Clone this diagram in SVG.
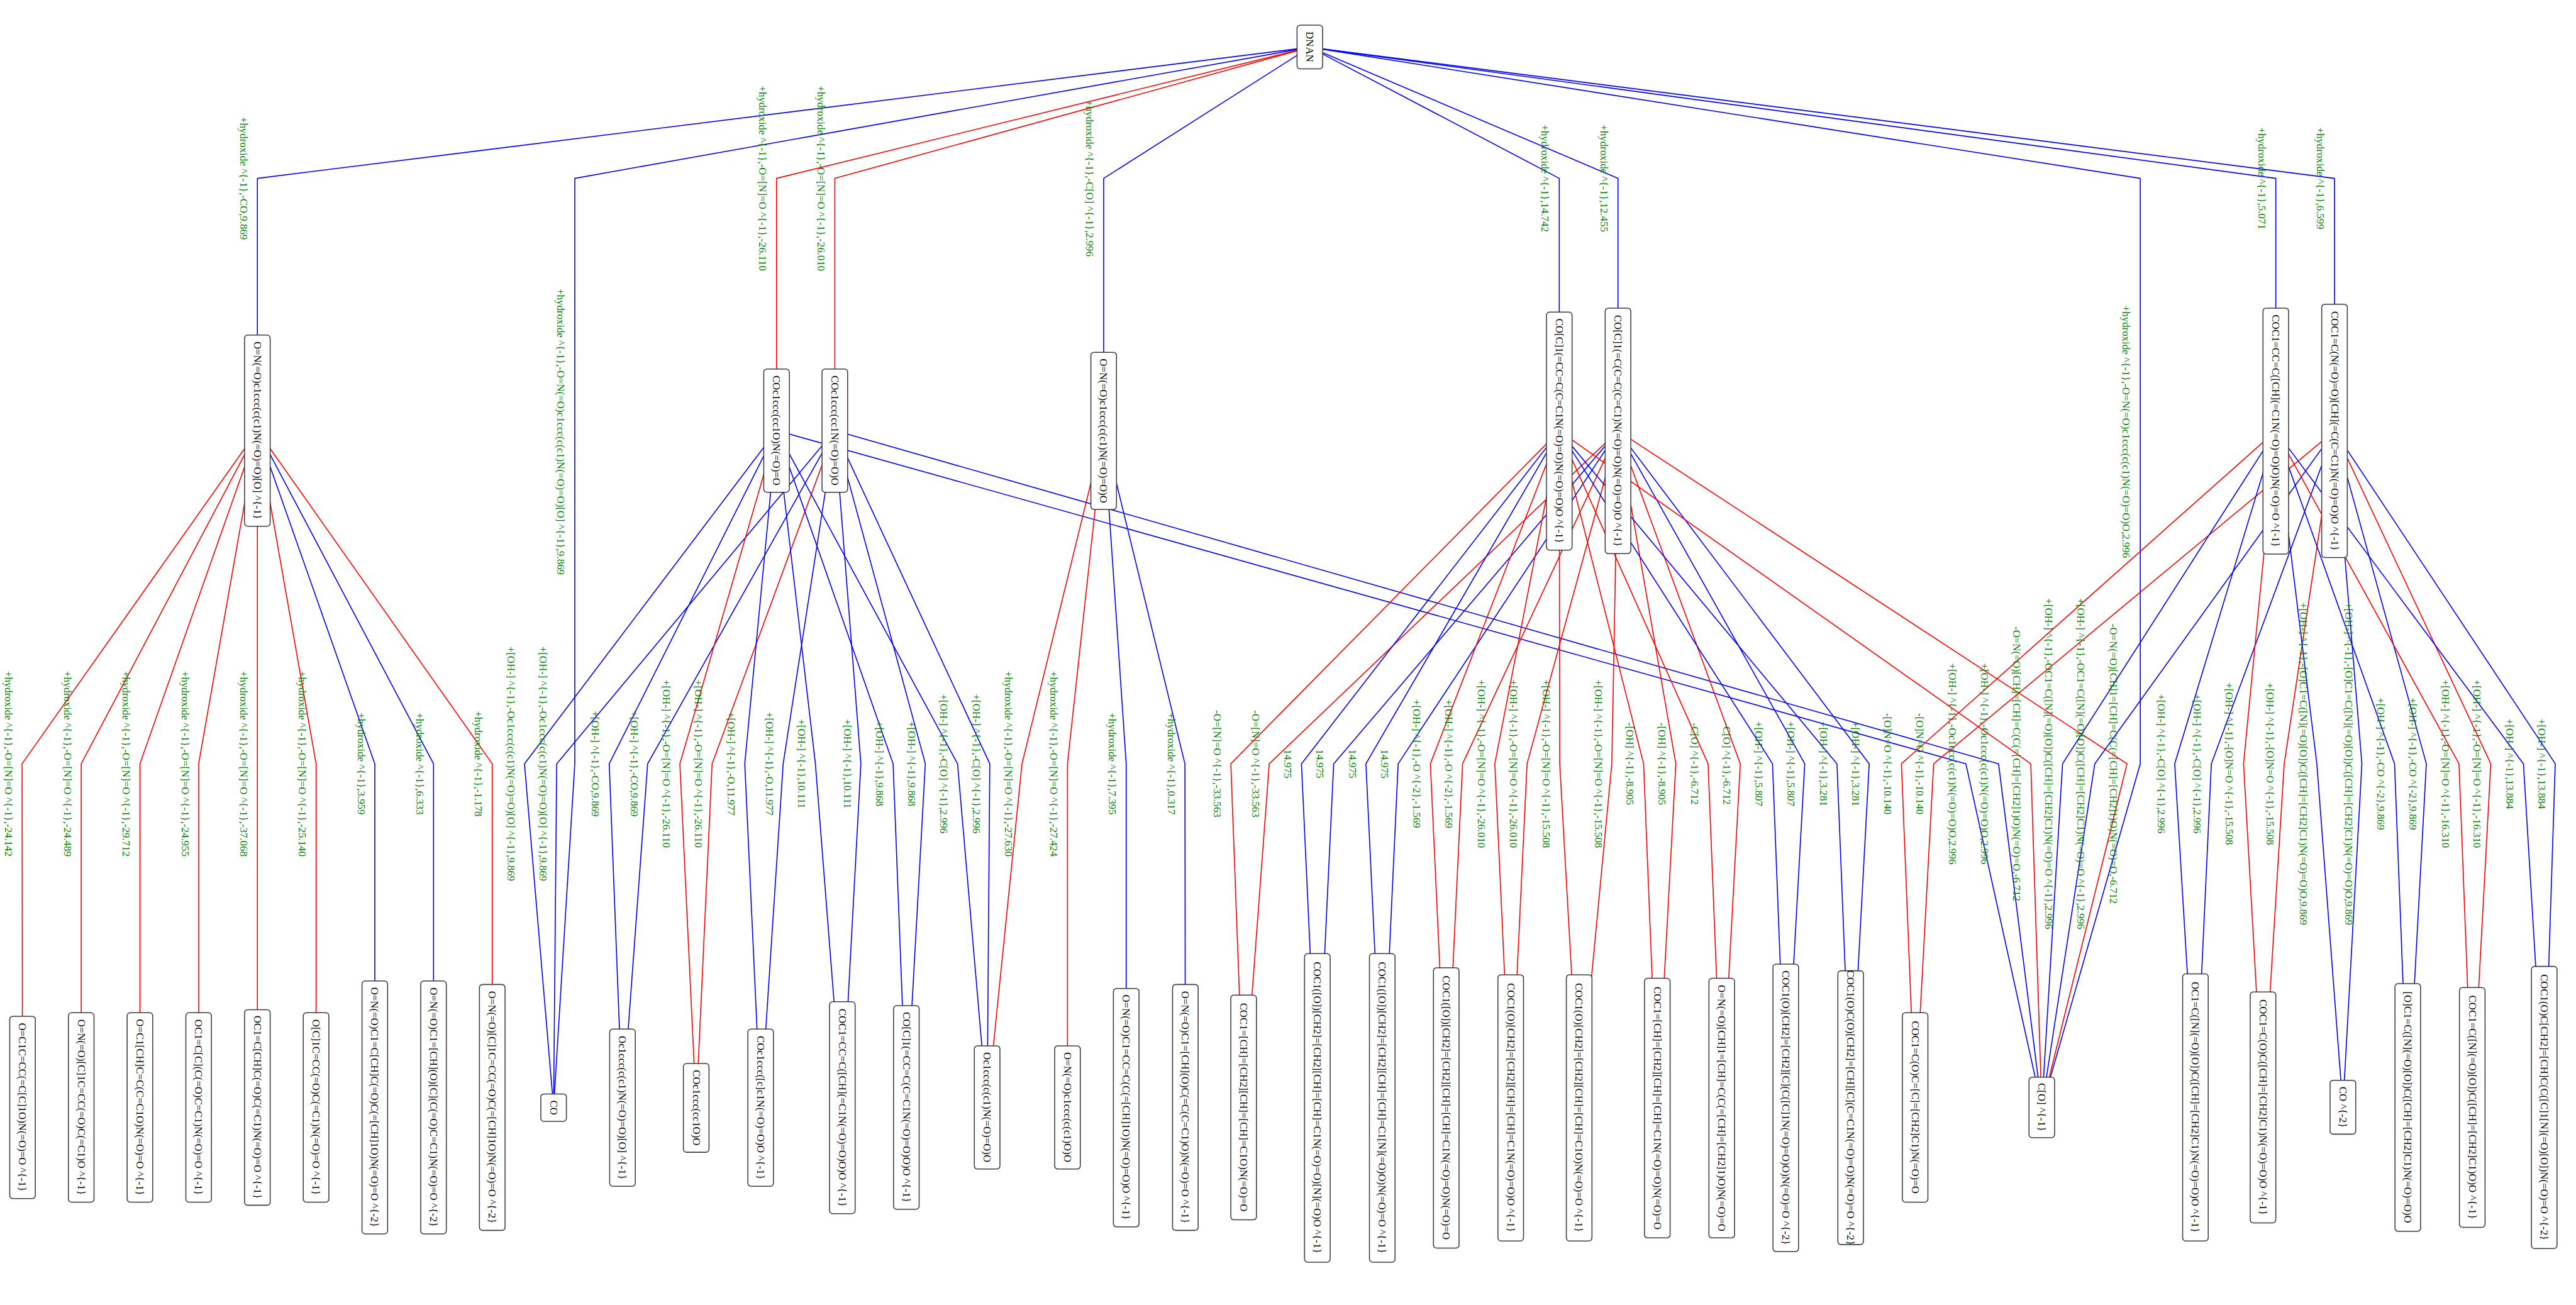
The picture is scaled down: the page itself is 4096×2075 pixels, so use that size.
<svg xmlns="http://www.w3.org/2000/svg" width="4096" height="2075" viewBox="0 0 4096 2075">
<style>
.bg{fill:#fff}
.nd rect{fill:#fff;stroke:#3c3c3c;stroke-width:2.2}
.nd text{font-family:"Liberation Serif","Times New Roman",serif;font-size:24px;fill:#000;text-anchor:middle;dominant-baseline:central}
.e{fill:none;stroke-width:2.3;stroke-linejoin:round}
.b{stroke:#0000ff}
.r{stroke:#ff0000}
.l{font-family:"Liberation Serif","Times New Roman",serif;font-size:24px;fill:#008000;text-anchor:middle;dominant-baseline:central}
</style>
<rect class="bg" x="0" y="0" width="4096" height="2075"/>
<g transform="scale(0.70197)">
<g id="connectors">
<polyline class="e b" points="2967,107 583,404 583,975"/>
<polyline class="e b" points="2967,107 1302,404 1302,1730 1254,2509"/>
<polyline class="e r" points="2967,107 1759,404 1759,975"/>
<polyline class="e r" points="2967,107 1891,404 1891,975"/>
<polyline class="e b" points="2967,107 2500,404 2500,976"/>
<polyline class="e b" points="2967,107 3532,404 3532,976"/>
<polyline class="e b" points="2967,107 3665,404 3665,976"/>
<polyline class="e b" points="2967,107 4848,404 4848,1730 4625,2508"/>
<polyline class="e b" points="2967,107 5155,404 5155,976"/>
<polyline class="e b" points="2967,107 5288,404 5288,976"/>
<polyline class="e r" points="583,975 50,1730 51,2508"/>
<polyline class="e r" points="583,975 184,1730 184,2508"/>
<polyline class="e r" points="583,975 317,1730 317,2508"/>
<polyline class="e r" points="583,975 450,1730 450,2508"/>
<polyline class="e r" points="583,975 583,1730 583,2508"/>
<polyline class="e r" points="583,975 716,1730 716,2508"/>
<polyline class="e b" points="583,975 849,1730 849,2508"/>
<polyline class="e b" points="583,975 982,1730 982,2508"/>
<polyline class="e r" points="583,975 1115,1730 1115,2508"/>
<polyline class="e b" points="1759,975 1188,1730 1254,2509"/>
<polyline class="e b" points="1891,975 1261,1730 1254,2509"/>
<polyline class="e b" points="1759,975 1380,1730 1410,2509"/>
<polyline class="e b" points="1891,975 1467,1730 1410,2509"/>
<polyline class="e r" points="1759,975 1540,1730 1577,2509"/>
<polyline class="e r" points="1891,975 1613,1730 1577,2509"/>
<polyline class="e b" points="1759,975 1687,1730 1723,2509"/>
<polyline class="e b" points="1891,975 1774,1730 1723,2509"/>
<polyline class="e b" points="1759,975 1847,1730 1908,2509"/>
<polyline class="e b" points="1891,975 1950,1730 1908,2509"/>
<polyline class="e b" points="1759,975 2023,1730 2053,2508"/>
<polyline class="e b" points="1891,975 2096,1730 2053,2508"/>
<polyline class="e b" points="1759,975 2169,1730 2236,2508"/>
<polyline class="e b" points="1891,975 2242,1730 2236,2508"/>
<polyline class="e b" points="1759,975 4453,1730 4625,2508"/>
<polyline class="e b" points="1891,975 4527,1730 4625,2508"/>
<polyline class="e r" points="2500,976 2315,1730 2236,2508"/>
<polyline class="e r" points="2500,976 2418,1730 2418,2508"/>
<polyline class="e b" points="2500,976 2551,1730 2551,2508"/>
<polyline class="e b" points="2500,976 2684,1730 2685,2508"/>
<polyline class="e r" points="3532,976 2788,1730 2817,2508"/>
<polyline class="e r" points="3665,976 2875,1730 2817,2508"/>
<polyline class="e b" points="3532,976 2948,1730 2984,2508"/>
<polyline class="e b" points="3665,976 3021,1730 2984,2508"/>
<polyline class="e b" points="3532,976 3094,1730 3131,2508"/>
<polyline class="e b" points="3665,976 3167,1730 3131,2508"/>
<polyline class="e r" points="3532,976 3240,1730 3276,2508"/>
<polyline class="e r" points="3665,976 3313,1730 3276,2508"/>
<polyline class="e r" points="3532,976 3386,1730 3422,2508"/>
<polyline class="e r" points="3665,976 3459,1730 3422,2508"/>
<polyline class="e r" points="3532,976 3533,1730 3577,2508"/>
<polyline class="e r" points="3665,976 3651,1730 3577,2508"/>
<polyline class="e r" points="3532,976 3723,1730 3754,2508"/>
<polyline class="e r" points="3665,976 3796,1730 3754,2508"/>
<polyline class="e r" points="3532,976 3869,1730 3900,2508"/>
<polyline class="e r" points="3665,976 3942,1730 3900,2508"/>
<polyline class="e b" points="3532,976 4015,1730 4045,2508"/>
<polyline class="e b" points="3665,976 4088,1730 4045,2508"/>
<polyline class="e b" points="3532,976 4161,1730 4192,2508"/>
<polyline class="e b" points="3665,976 4234,1730 4192,2508"/>
<polyline class="e r" points="3532,976 4600,1730 4625,2508"/>
<polyline class="e r" points="3665,976 4818,1730 4625,2508"/>
<polyline class="e r" points="5155,976 4307,1730 4338,2508"/>
<polyline class="e r" points="5288,976 4380,1730 4338,2508"/>
<polyline class="e b" points="5155,976 4672,1730 4625,2508"/>
<polyline class="e b" points="5288,976 4745,1730 4625,2508"/>
<polyline class="e b" points="5155,976 4926,1730 4973,2508"/>
<polyline class="e b" points="5288,976 5009,1730 4973,2508"/>
<polyline class="e r" points="5155,976 5082,1730 5126,2508"/>
<polyline class="e r" points="5288,976 5174,1730 5126,2508"/>
<polyline class="e b" points="5155,976 5248,1730 5307,2508"/>
<polyline class="e b" points="5288,976 5350,1730 5307,2508"/>
<polyline class="e b" points="5155,976 5424,1730 5454,2508"/>
<polyline class="e b" points="5288,976 5496,1730 5454,2508"/>
<polyline class="e r" points="5155,976 5570,1730 5600,2508"/>
<polyline class="e r" points="5288,976 5642,1730 5600,2508"/>
<polyline class="e b" points="5155,976 5716,1730 5763,2508"/>
<polyline class="e b" points="5288,976 5788,1730 5763,2508"/>
<g id="edge-labels">
<text class="l" x="552" y="404" transform="rotate(90 552 404)">+hydroxide ^{-1},-CO,9.869</text>
<text class="l" x="1270" y="978" transform="rotate(90 1270 978)">+hydroxide ^{-1},-O=N(=O)c1ccc(c(c1)N(=O)=O)[O] ^{-1},9.869</text>
<text class="l" x="1727" y="404" transform="rotate(90 1727 404)">+hydroxide ^{-1},-O=[N]=O ^{-1},-26.110</text>
<text class="l" x="1860" y="404" transform="rotate(90 1860 404)">+hydroxide ^{-1},-O=[N]=O ^{-1},-26.010</text>
<text class="l" x="2468" y="404" transform="rotate(90 2468 404)">+hydroxide ^{-1},-C[O] ^{-1},2.996</text>
<text class="l" x="3500" y="404" transform="rotate(90 3500 404)">+hydroxide ^{-1},14.742</text>
<text class="l" x="3633" y="404" transform="rotate(90 3633 404)">+hydroxide ^{-1},12.455</text>
<text class="l" x="4816" y="978" transform="rotate(90 4816 978)">+hydroxide ^{-1},-O=N(=O)c1ccc(c(c1)N(=O)=O)O,2.996</text>
<text class="l" x="5123" y="404" transform="rotate(90 5123 404)">+hydroxide ^{-1},5.071</text>
<text class="l" x="5256" y="404" transform="rotate(90 5256 404)">+hydroxide ^{-1},6.599</text>
<text class="l" x="19" y="1730" transform="rotate(90 19 1730)">+hydroxide ^{-1},-O=[N]=O ^{-1},-24.142</text>
<text class="l" x="153" y="1730" transform="rotate(90 153 1730)">+hydroxide ^{-1},-O=[N]=O ^{-1},-24.489</text>
<text class="l" x="286" y="1730" transform="rotate(90 286 1730)">+hydroxide ^{-1},-O=[N]=O ^{-1},-29.712</text>
<text class="l" x="419" y="1730" transform="rotate(90 419 1730)">+hydroxide ^{-1},-O=[N]=O ^{-1},-24.955</text>
<text class="l" x="552" y="1730" transform="rotate(90 552 1730)">+hydroxide ^{-1},-O=[N]=O ^{-1},-37.068</text>
<text class="l" x="685" y="1730" transform="rotate(90 685 1730)">+hydroxide ^{-1},-O=[N]=O ^{-1},-25.140</text>
<text class="l" x="818" y="1730" transform="rotate(90 818 1730)">+hydroxide ^{-1},3.959</text>
<text class="l" x="951" y="1730" transform="rotate(90 951 1730)">+hydroxide ^{-1},6.333</text>
<text class="l" x="1084" y="1730" transform="rotate(90 1084 1730)">+hydroxide ^{-1},-1.178</text>
<text class="l" x="1157" y="1730" transform="rotate(90 1157 1730)">+[OH-] ^{-1},-Oc1ccc(c(c1)N(=O)=O)[O] ^{-1},9.869</text>
<text class="l" x="1230" y="1730" transform="rotate(90 1230 1730)">+[OH-] ^{-1},-Oc1ccc(c(c1)N(=O)=O)[O] ^{-1},9.869</text>
<text class="l" x="1349" y="1730" transform="rotate(90 1349 1730)">+[OH-] ^{-1},-CO,9.869</text>
<text class="l" x="1436" y="1730" transform="rotate(90 1436 1730)">+[OH-] ^{-1},-CO,9.869</text>
<text class="l" x="1509" y="1730" transform="rotate(90 1509 1730)">+[OH-] ^{-1},-O=[N]=O ^{-1},-26.110</text>
<text class="l" x="1582" y="1730" transform="rotate(90 1582 1730)">+[OH-] ^{-1},-O=[N]=O ^{-1},-26.110</text>
<text class="l" x="1656" y="1730" transform="rotate(90 1656 1730)">+[OH-] ^{-1},-O,11.977</text>
<text class="l" x="1743" y="1730" transform="rotate(90 1743 1730)">+[OH-] ^{-1},-O,11.977</text>
<text class="l" x="1816" y="1730" transform="rotate(90 1816 1730)">+[OH-] ^{-1},10.111</text>
<text class="l" x="1919" y="1730" transform="rotate(90 1919 1730)">+[OH-] ^{-1},10.111</text>
<text class="l" x="1992" y="1730" transform="rotate(90 1992 1730)">+[OH-] ^{-1},9.868</text>
<text class="l" x="2065" y="1730" transform="rotate(90 2065 1730)">+[OH-] ^{-1},9.868</text>
<text class="l" x="2138" y="1730" transform="rotate(90 2138 1730)">+[OH-] ^{-1},-C[O] ^{-1},2.996</text>
<text class="l" x="2211" y="1730" transform="rotate(90 2211 1730)">+[OH-] ^{-1},-C[O] ^{-1},2.996</text>
<text class="l" x="2284" y="1730" transform="rotate(90 2284 1730)">+hydroxide ^{-1},-O=[N]=O ^{-1},-27.630</text>
<text class="l" x="2387" y="1730" transform="rotate(90 2387 1730)">+hydroxide ^{-1},-O=[N]=O ^{-1},-27.424</text>
<text class="l" x="2520" y="1730" transform="rotate(90 2520 1730)">+hydroxide ^{-1},7.395</text>
<text class="l" x="2653" y="1730" transform="rotate(90 2653 1730)">+hydroxide ^{-1},0.317</text>
<text class="l" x="2757" y="1730" transform="rotate(90 2757 1730)">-O=[N]=O ^{-1},-33.563</text>
<text class="l" x="2844" y="1730" transform="rotate(90 2844 1730)">-O=[N]=O ^{-1},-33.563</text>
<text class="l" x="2917" y="1730" transform="rotate(90 2917 1730)">14.975</text>
<text class="l" x="2990" y="1730" transform="rotate(90 2990 1730)">14.975</text>
<text class="l" x="3063" y="1730" transform="rotate(90 3063 1730)">14.975</text>
<text class="l" x="3136" y="1730" transform="rotate(90 3136 1730)">14.975</text>
<text class="l" x="3209" y="1730" transform="rotate(90 3209 1730)">+[OH-] ^{-1},-O ^{-2},-1.569</text>
<text class="l" x="3282" y="1730" transform="rotate(90 3282 1730)">+[OH-] ^{-1},-O ^{-2},-1.569</text>
<text class="l" x="3355" y="1730" transform="rotate(90 3355 1730)">+[OH-] ^{-1},-O=[N]=O ^{-1},-26.010</text>
<text class="l" x="3428" y="1730" transform="rotate(90 3428 1730)">+[OH-] ^{-1},-O=[N]=O ^{-1},-26.010</text>
<text class="l" x="3502" y="1730" transform="rotate(90 3502 1730)">+[OH-] ^{-1},-O=[N]=O ^{-1},-15.508</text>
<text class="l" x="3620" y="1730" transform="rotate(90 3620 1730)">+[OH-] ^{-1},-O=[N]=O ^{-1},-15.508</text>
<text class="l" x="3692" y="1730" transform="rotate(90 3692 1730)">-[OH] ^{-1},-8.905</text>
<text class="l" x="3765" y="1730" transform="rotate(90 3765 1730)">-[OH] ^{-1},-8.905</text>
<text class="l" x="3838" y="1730" transform="rotate(90 3838 1730)">-C[O] ^{-1},-6.712</text>
<text class="l" x="3911" y="1730" transform="rotate(90 3911 1730)">-C[O] ^{-1},-6.712</text>
<text class="l" x="3984" y="1730" transform="rotate(90 3984 1730)">+[OH-] ^{-1},5.807</text>
<text class="l" x="4057" y="1730" transform="rotate(90 4057 1730)">+[OH-] ^{-1},5.807</text>
<text class="l" x="4130" y="1730" transform="rotate(90 4130 1730)">+[OH-] ^{-1},3.281</text>
<text class="l" x="4203" y="1730" transform="rotate(90 4203 1730)">+[OH-] ^{-1},3.281</text>
<text class="l" x="4276" y="1730" transform="rotate(90 4276 1730)">-[O]N=O ^{-1},-10.140</text>
<text class="l" x="4349" y="1730" transform="rotate(90 4349 1730)">-[O]N=O ^{-1},-10.140</text>
<text class="l" x="4422" y="1730" transform="rotate(90 4422 1730)">+[OH-] ^{-1},-Oc1ccc(c(c1)N(=O)=O)O,2.996</text>
<text class="l" x="4495" y="1730" transform="rotate(90 4495 1730)">+[OH-] ^{-1},-Oc1ccc(c(c1)N(=O)=O)O,2.996</text>
<text class="l" x="4568" y="1730" transform="rotate(90 4568 1730)">-O=N(=O)[CH]=[CH]=C(C(=[CH]=[CH2]1)O)N(=O)=O,-6.712</text>
<text class="l" x="4640" y="1730" transform="rotate(90 4640 1730)">+[OH-] ^{-1},-OC1=C([N](=O)[O])C([CH]=[CH2]C1)N(=O)=O ^{-1},2.996</text>
<text class="l" x="4713" y="1730" transform="rotate(90 4713 1730)">+[OH-] ^{-1},-OC1=C([N](=O)[O])C([CH]=[CH2]C1)N(=O)=O ^{-1},2.996</text>
<text class="l" x="4787" y="1730" transform="rotate(90 4787 1730)">-O=N(=O)[CH]1=[CH]=C(C(=[CH]=[CH2]1)O)N(=O)=O,-6.712</text>
<text class="l" x="4895" y="1730" transform="rotate(90 4895 1730)">+[OH-] ^{-1},-C[O] ^{-1},2.996</text>
<text class="l" x="4977" y="1730" transform="rotate(90 4977 1730)">+[OH-] ^{-1},-C[O] ^{-1},2.996</text>
<text class="l" x="5050" y="1730" transform="rotate(90 5050 1730)">+[OH-] ^{-1},-[O]N=O ^{-1},-15.508</text>
<text class="l" x="5142" y="1730" transform="rotate(90 5142 1730)">+[OH-] ^{-1},-[O]N=O ^{-1},-15.508</text>
<text class="l" x="5217" y="1730" transform="rotate(90 5217 1730)">+[OH-] ^{-1},-[O]C1=C([N](=O)[O])C([CH]=[CH2]C1)N(=O)=O)O,9.869</text>
<text class="l" x="5320" y="1730" transform="rotate(90 5320 1730)">+[OH-] ^{-1},-[O]C1=C([N](=O)[O])C([CH]=[CH2]C1)N(=O)=O)O,9.869</text>
<text class="l" x="5393" y="1730" transform="rotate(90 5393 1730)">+[OH-] ^{-1},-CO ^{-2},9.869</text>
<text class="l" x="5465" y="1730" transform="rotate(90 5465 1730)">+[OH-] ^{-1},-CO ^{-2},9.869</text>
<text class="l" x="5539" y="1730" transform="rotate(90 5539 1730)">+[OH-] ^{-1},-O=[N]=O ^{-1},-16.310</text>
<text class="l" x="5611" y="1730" transform="rotate(90 5611 1730)">+[OH-] ^{-1},-O=[N]=O ^{-1},-16.310</text>
<text class="l" x="5685" y="1730" transform="rotate(90 5685 1730)">+[OH-] ^{-1},13.884</text>
<text class="l" x="5757" y="1730" transform="rotate(90 5757 1730)">+[OH-] ^{-1},13.884</text>
</g>
</g>
<g id="nodes">
<g id="n-root" class="nd"><rect x="2938" y="57" width="58" height="99" rx="7"/><text x="2967" y="106" transform="rotate(90 2967 106)">DNAN</text></g>
<g id="n-a" class="nd"><rect x="554" y="759" width="58" height="433" rx="7"/><text x="583" y="975" transform="rotate(90 583 975)">O=N(=O)c1ccc(c(c1)N(=O)=O)[O] ^{-1}</text></g>
<g id="n-c" class="nd"><rect x="1730" y="836" width="58" height="279" rx="7"/><text x="1759" y="975" transform="rotate(90 1759 975)">COc1ccc(cc1O)N(=O)=O</text></g>
<g id="n-d" class="nd"><rect x="1862" y="836" width="58" height="279" rx="7"/><text x="1891" y="975" transform="rotate(90 1891 975)">COc1ccc(cc1N(=O)=O)O</text></g>
<g id="n-e" class="nd"><rect x="2471" y="798" width="58" height="356" rx="7"/><text x="2500" y="976" transform="rotate(90 2500 976)">O=N(=O)c1ccc(c(c1)N(=O)=O)O</text></g>
<g id="n-f" class="nd"><rect x="3503" y="707" width="58" height="539" rx="7"/><text x="3532" y="976" transform="rotate(90 3532 976)">CO[C]1(=CC=C(C=C1N(=O)=O)N(=O)=O)O ^{-1}</text></g>
<g id="n-g" class="nd"><rect x="3636" y="698" width="58" height="556" rx="7"/><text x="3665" y="976" transform="rotate(90 3665 976)">CO[C]1(=C(C=C(C=C1)N(=O)=O)N(=O)=O)O ^{-1}</text></g>
<g id="n-i" class="nd"><rect x="5126" y="698" width="58" height="557" rx="7"/><text x="5155" y="976" transform="rotate(90 5155 976)">COC1=CC=C([CH](=C1N(=O)=O)O)N(=O)=O ^{-1}</text></g>
<g id="n-j" class="nd"><rect x="5259" y="689" width="58" height="574" rx="7"/><text x="5288" y="976" transform="rotate(90 5288 976)">COC1=C(N(=O)=O)[CH](=C(C=C1)N(=O)=O)O ^{-1}</text></g>
<g id="n-l1" class="nd"><rect x="22" y="2302" width="58" height="413" rx="7"/><text x="51" y="2508" transform="rotate(90 51 2508)">O=C1C=CC(=C[C]1O)N(=O)=O ^{-1}</text></g>
<g id="n-l2" class="nd"><rect x="155" y="2294" width="58" height="429" rx="7"/><text x="184" y="2508" transform="rotate(90 184 2508)">O=N(=O)[C]1C=CC(=O)C(=C1)O ^{-1}</text></g>
<g id="n-l3" class="nd"><rect x="288" y="2294" width="58" height="429" rx="7"/><text x="317" y="2508" transform="rotate(90 317 2508)">O=C1[CH]C=C(C=C1O)N(=O)=O ^{-1}</text></g>
<g id="n-l4" class="nd"><rect x="421" y="2294" width="58" height="429" rx="7"/><text x="450" y="2508" transform="rotate(90 450 2508)">OC1=C[C](C(=O)C=C1)N(=O)=O ^{-1}</text></g>
<g id="n-l5" class="nd"><rect x="554" y="2287" width="58" height="443" rx="7"/><text x="583" y="2508" transform="rotate(90 583 2508)">OC1=C[CH]C(=O)C(=C1)N(=O)=O ^{-1}</text></g>
<g id="n-l6" class="nd"><rect x="687" y="2294" width="58" height="429" rx="7"/><text x="716" y="2508" transform="rotate(90 716 2508)">O[C]1C=CC(=O)C(=C1)N(=O)=O ^{-1}</text></g>
<g id="n-l7" class="nd"><rect x="820" y="2222" width="58" height="573" rx="7"/><text x="849" y="2508" transform="rotate(90 849 2508)">O=N(=O)C1=C[CH]C(=O)C(=[CH]1O)N(=O)=O ^{-2}</text></g>
<g id="n-l8" class="nd"><rect x="953" y="2222" width="58" height="573" rx="7"/><text x="982" y="2508" transform="rotate(90 982 2508)">O=N(=O)C1=[CH](O)[C](C(=O)C=C1)N(=O)=O ^{-2}</text></g>
<g id="n-l9" class="nd"><rect x="1086" y="2230" width="58" height="557" rx="7"/><text x="1115" y="2508" transform="rotate(90 1115 2508)">O=N(=O)[C]1C=CC(=O)C(=[CH]1O)N(=O)=O ^{-2}</text></g>
<g id="n-co" class="nd"><rect x="1225" y="2478" width="58" height="62" rx="7"/><text x="1254" y="2509" transform="rotate(90 1254 2509)">CO</text></g>
<g id="n-l10" class="nd"><rect x="1381" y="2331" width="58" height="356" rx="7"/><text x="1410" y="2509" transform="rotate(90 1410 2509)">Oc1ccc(c(c1)N(=O)=O)[O] ^{-1}</text></g>
<g id="n-l11" class="nd"><rect x="1548" y="2409" width="58" height="201" rx="7"/><text x="1577" y="2509" transform="rotate(90 1577 2509)">COc1ccc(cc1O)O</text></g>
<g id="n-l12" class="nd"><rect x="1694" y="2331" width="58" height="356" rx="7"/><text x="1723" y="2509" transform="rotate(90 1723 2509)">COc1ccc([c]c1N(=O)=O)O ^{-1}</text></g>
<g id="n-l13" class="nd"><rect x="1879" y="2269" width="58" height="480" rx="7"/><text x="1908" y="2509" transform="rotate(90 1908 2509)">COC1=CC=C([CH](=C1N(=O)=O)O)O ^{-1}</text></g>
<g id="n-l14" class="nd"><rect x="2024" y="2278" width="58" height="461" rx="7"/><text x="2053" y="2508" transform="rotate(90 2053 2508)">CO[C]1(=CC=C(C=C1N(=O)=O)O)O ^{-1}</text></g>
<g id="n-l15" class="nd"><rect x="2207" y="2369" width="58" height="279" rx="7"/><text x="2236" y="2508" transform="rotate(90 2236 2508)">Oc1ccc(c(c1)N(=O)=O)O</text></g>
<g id="n-l16" class="nd"><rect x="2389" y="2369" width="58" height="279" rx="7"/><text x="2418" y="2508" transform="rotate(90 2418 2508)">O=N(=O)c1ccc(c(c1)O)O</text></g>
<g id="n-l17" class="nd"><rect x="2522" y="2239" width="58" height="540" rx="7"/><text x="2551" y="2508" transform="rotate(90 2551 2508)">O=N(=O)C1=CC=C(C(=[CH]1O)N(=O)=O)O ^{-1}</text></g>
<g id="n-l18" class="nd"><rect x="2656" y="2230" width="58" height="557" rx="7"/><text x="2685" y="2508" transform="rotate(90 2685 2508)">O=N(=O)C1=[CH](O)C(=C(C=C1)O)N(=O)=O ^{-1}</text></g>
<g id="n-l19" class="nd"><rect x="2788" y="2254" width="58" height="509" rx="7"/><text x="2817" y="2508" transform="rotate(90 2817 2508)">COC1=[CH]=[CH2][CH]=[CH]=C1O)N(=O)=O</text></g>
<g id="n-l20" class="nd"><rect x="2955" y="2160" width="58" height="699" rx="7"/><text x="2984" y="2509" transform="rotate(90 2984 2509)">COC1([O])[CH2]=[CH2][CH]=[CH]=C1N(=O)=O)[N](=O)O ^{-1}</text></g>
<g id="n-l21" class="nd"><rect x="3102" y="2160" width="58" height="699" rx="7"/><text x="3131" y="2509" transform="rotate(90 3131 2509)">COC1([O])[CH2]=[CH2][CH]=[CH]=C1[N](=O)O)N(=O)=O ^{-1}</text></g>
<g id="n-l22" class="nd"><rect x="3247" y="2192" width="58" height="635" rx="7"/><text x="3276" y="2509" transform="rotate(90 3276 2509)">COC1([O])[CH2]=[CH2][CH]=[CH]=C1N(=O)=O)N(=O)=O</text></g>
<g id="n-l23" class="nd"><rect x="3393" y="2208" width="58" height="603" rx="7"/><text x="3422" y="2509" transform="rotate(90 3422 2509)">COC1(O)[CH2]=[CH2][CH]=[CH]=C1N(=O)=O)O ^{-1}</text></g>
<g id="n-l24" class="nd"><rect x="3548" y="2208" width="58" height="603" rx="7"/><text x="3577" y="2509" transform="rotate(90 3577 2509)">COC1(O)[CH2]=[CH2][CH]=[CH]=C1O)N(=O)=O ^{-1}</text></g>
<g id="n-l25" class="nd"><rect x="3725" y="2216" width="58" height="588" rx="7"/><text x="3754" y="2510" transform="rotate(90 3754 2510)">COC1=[CH]=[CH2][CH]=[CH]=C1N(=O)=O)N(=O)=O</text></g>
<g id="n-l26" class="nd"><rect x="3871" y="2216" width="58" height="588" rx="7"/><text x="3900" y="2510" transform="rotate(90 3900 2510)">O=N(=O)[CH]1=[CH]=C(C(=[CH]=[CH2]1)O)N(=O)=O</text></g>
<g id="n-l27" class="nd"><rect x="4016" y="2184" width="58" height="651" rx="7"/><text x="4045" y="2509" transform="rotate(90 4045 2509)">COC1(O)[CH2]=[CH2][C](C([C]1N(=O)=O)O)N(=O)=O ^{-2}</text></g>
<g id="n-l28" class="nd"><rect x="4163" y="2199" width="58" height="620" rx="7"/><text x="4192" y="2509" transform="rotate(90 4192 2509)">COC1(O)C(O)[CH2]=[CH][C](C=C1N(=O)=O)N(=O)=O ^{-2}</text></g>
<g id="n-l29" class="nd"><rect x="4309" y="2294" width="58" height="429" rx="7"/><text x="4338" y="2508" transform="rotate(90 4338 2508)">COC1=C(O)C=[C]=[CH2]C1)N(=O)=O</text></g>
<g id="n-co1" class="nd"><rect x="4596" y="2440" width="58" height="137" rx="7"/><text x="4625" y="2508" transform="rotate(90 4625 2508)">C[O] ^{-1}</text></g>
<g id="n-l30" class="nd"><rect x="4944" y="2206" width="58" height="605" rx="7"/><text x="4973" y="2508" transform="rotate(90 4973 2508)">OC1=C([N](=O)[O])C([CH]=[CH2]C1)N(=O)=O)O ^{-1}</text></g>
<g id="n-l31" class="nd"><rect x="5097" y="2247" width="58" height="523" rx="7"/><text x="5126" y="2508" transform="rotate(90 5126 2508)">COC1=C(O)C([CH]=[CH2]C1)N(=O)=O)O ^{-1}</text></g>
<g id="n-co2" class="nd"><rect x="5278" y="2447" width="58" height="122" rx="7"/><text x="5307" y="2508" transform="rotate(90 5307 2508)">CO ^{-2}</text></g>
<g id="n-l32" class="nd"><rect x="5425" y="2228" width="58" height="561" rx="7"/><text x="5454" y="2508" transform="rotate(90 5454 2508)">[O]C1=C([N](=O)[O])C([CH]=[CH2]C1)N(=O)=O)O</text></g>
<g id="n-l33" class="nd"><rect x="5571" y="2237" width="58" height="543" rx="7"/><text x="5600" y="2508" transform="rotate(90 5600 2508)">COC1=C([N](=O)[O])C([CH]=[CH2]C1)O)O ^{-1}</text></g>
<g id="n-l34" class="nd"><rect x="5734" y="2189" width="58" height="639" rx="7"/><text x="5763" y="2508" transform="rotate(90 5763 2508)">COC1(O)C[CH2]=[CH]C(C([C]1[N](=O)[O])N(=O)=O ^{-2}</text></g>
</g>
</g>
</svg>
